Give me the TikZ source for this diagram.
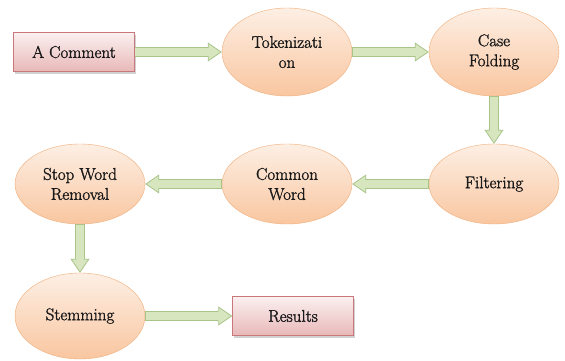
\documentclass[tikz,border=0pt]{standalone}
\usepackage{fontspec}
\newfontfamily\stagefont{Latin Modern Roman}[FakeBold=1.5]
\usetikzlibrary{arrows.meta,shapes.geometric,shadows}

\definecolor{stageline}{HTML}{F0AD78}
\definecolor{stagetop}{HTML}{FDEFE4}
\definecolor{stagebot}{HTML}{F9C6A0}
\definecolor{boxline}{HTML}{C9777A}
\definecolor{boxtop}{HTML}{FBF0F0}
\definecolor{boxbot}{HTML}{E8B8B8}
\definecolor{flowline}{HTML}{A8C488}
\definecolor{flowfill}{HTML}{D8E6C0}

\begin{document}
\begin{tikzpicture}[node distance=207pt,auto,font=\stagefont\fontsize{17}{20}\selectfont]
		\tikzstyle{stage}=[ellipse, draw=stageline, top color=stagetop, bottom color=stagebot, minimum width=130pt, minimum height=86pt, inner sep=0pt, align=center, text=black!90]
		\tikzstyle{io box}=[rectangle, draw=boxline, top color=boxtop, bottom color=boxbot, minimum width=121pt, minimum height=39pt, text=black!90, drop shadow={shadow xshift=1.5pt,shadow yshift=-2pt,opacity=.35}]
		\tikzstyle{flow outer}=[draw=flowline, line width=10pt, -{Triangle[length=14pt,width=19pt,fill=flowfill,color=flowline,line width=.8pt]}]
		\tikzstyle{flow inner}=[draw=flowfill, line width=8.4pt, shorten <=.8pt, shorten >=11pt]

		\useasboundingbox[fill=white] (-287pt,52pt) rectangle (278pt,-308pt);

		% top row
		\node [stage, minimum height=88pt] (tok) {Tokenizati\\on};
		\node [io box] (comment) [left of=tok, xshift=-6pt] {A Comment};
		\node [stage, minimum height=88pt] (case) [right of=tok] {Case\\Folding};

		% middle row
		\node [stage, minimum height=80pt, node distance=132pt] (filter) [below of=case] {Filtering};
		\node [stage, minimum height=80pt] (common) [left of=filter] {Common\\Word};
		\node [stage, minimum height=80pt] (stop) [left of=common] {Stop Word\\Removal};

		% bottom row
		\node [stage, node distance=132pt] (stem) [below of=stop] {Stemming};
		\node [io box] (res) [right of=stem, xshift=6pt] {Results};

		\foreach \a/\b in {comment/tok, tok/case, case/filter, filter/common, common/stop, stop/stem, stem/res}
		{
			\draw [flow outer] (\a) -- (\b);
			\draw [flow inner] (\a) -- (\b);
		}
	\end{tikzpicture}
\end{document}
